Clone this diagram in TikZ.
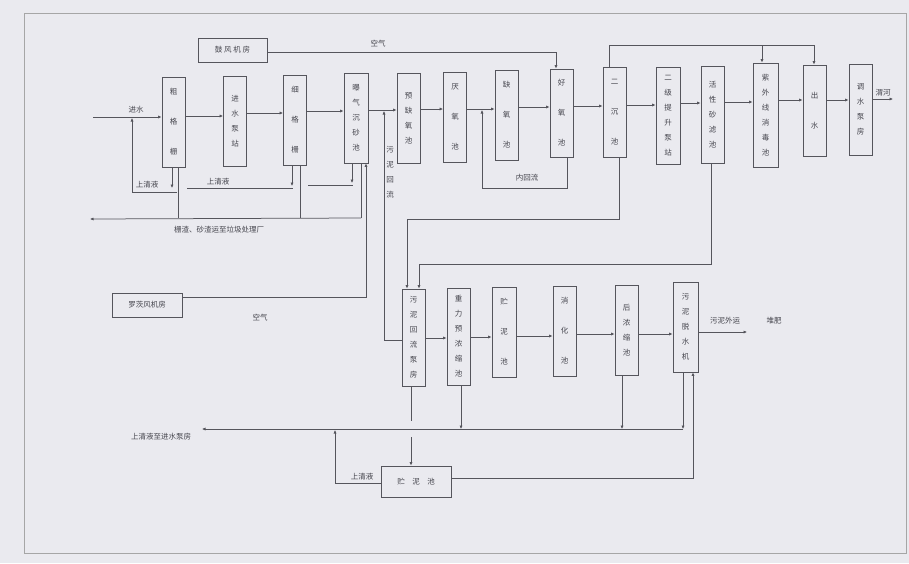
\documentclass[tikz,border=0pt]{standalone}
\usepackage{fontspec}
\newfontfamily\cjk{Noto Sans CJK SC}
\usetikzlibrary{arrows.meta}
\definecolor{paper}{RGB}{234,234,239}
\definecolor{ink}{RGB}{85,85,92}
\definecolor{txt}{RGB}{70,70,78}
\begin{document}
\begin{tikzpicture}[x=1pt,y=-1pt,
  unit/.style={draw=ink, fill=paper, line width=0.75pt, inner sep=0pt, align=center, text=txt, minimum width=23pt},
  tall/.style={unit, font=\cjk\fontsize{7.5}{30}\selectfont},
  short/.style={unit, font=\cjk\fontsize{7.5}{15}\selectfont},
  hbox/.style={unit, font=\cjk\fontsize{7.5}{9}\selectfont},
  flow/.style={draw=ink, line width=0.75pt},
  arr/.style={flow, -{Latex[length=3.5pt,width=3.2pt]}},
  lbl/.style={font=\cjk\fontsize{7.5}{9}\selectfont, text=txt, inner sep=1pt},
  vlbl/.style={font=\cjk\fontsize{7.5}{15}\selectfont, text=txt, inner sep=1pt, align=center}]
\fill[paper] (0,0) rectangle (909,563);
\useasboundingbox (0,0) rectangle (909,563);
\draw[gray!70, line width=0.8pt] (24,13) rectangle (906,553);

% ---- top row units
\node[hbox, minimum width=69pt, minimum height=24pt] (gf) at (232.5,50) {鼓\ 风\ 机\ 房};
\node[tall,  minimum height=90pt] (cgs)  at (173.5,122) {粗\\格\\栅};
\node[short, minimum height=90pt] (jsbz) at (235,121)   {进\\水\\泵\\站};
\node[tall,  minimum height=90pt] (xgs)  at (295,120)   {细\\格\\栅};
\node[short, minimum height=90pt, minimum width=24pt] (bq) at (356,118) {曝\\气\\沉\\砂\\池};
\node[short, minimum height=90pt] (yqy)  at (408.5,118) {预\\缺\\氧\\池};
\node[tall,  minimum height=90pt] (yy)   at (455,117)   {厌\\氧\\池};
\node[tall,  minimum height=90pt] (qy)   at (506.5,115) {缺\\氧\\池};
\node[tall,  minimum height=88pt] (hy)   at (561.5,113) {好\\氧\\池};
\node[tall,  minimum height=90pt] (ec)   at (614.5,112) {二\\沉\\池};
\node[short, minimum height=97pt, minimum width=24pt] (ej) at (668,115.5) {二\\级\\提\\升\\泵\\站};
\node[short, minimum height=97pt] (hx)   at (712.5,114.5) {活\\性\\砂\\滤\\池};
\node[short, minimum height=104pt, minimum width=25pt] (zw) at (765.5,115) {紫\\外\\线\\消\\毒\\池};
\node[tall,  minimum height=91pt] (cs)   at (814.5,110.5) {出\\水};
\node[short, minimum height=91pt] (ts)   at (860.5,109.5) {调\\水\\泵\\房};

% ---- sludge units
\node[hbox, minimum width=70pt, minimum height=24pt] (lc) at (147,305) {罗茨风机房};
\node[short, minimum height=97pt] (wh) at (413.5,337.5) {污\\泥\\回\\流\\泵\\房};
\node[short, minimum height=97pt] (zl) at (458.5,336.5) {重\\力\\预\\浓\\缩\\池};
\node[tall,  minimum height=90pt, minimum width=24pt] (zn) at (504,332) {贮\\泥\\池};
\node[tall,  minimum height=90pt] (xh) at (564.5,331) {消\\化\\池};
\node[short, minimum height=90pt] (hn) at (626.5,330) {后\\浓\\缩\\池};
\node[short, minimum height=90pt, minimum width=25pt] (tj) at (685.5,327) {污\\泥\\脱\\水\\机};
\node[hbox, minimum width=70pt, minimum height=31pt] (zn2) at (416,481.5) {贮\quad 泥\quad 池};

% ---- main water flow
\coordinate (in) at (93,117);
\draw[arr] (in) -- (cgs.west |- in);
\node[lbl] at (136,110) {进水};
\foreach \a/\b/\y in {cgs/jsbz/116, jsbz/xgs/113, xgs/bq/111, bq/yqy/110, yqy/yy/109, yy/qy/109, qy/hy/107, hy/ec/106, ec/ej/105, ej/hx/103, hx/zw/102, zw/cs/100, cs/ts/100}
  \draw[arr] (\a.east |- 0,\y) -- (\b.west |- 0,\y);
\coordinate (out) at (893,99);
\draw[arr] (ts.east |- out) -- (out);
\node[lbl] at (883,93) {渭河};

% ---- supernatant returns & screenings
\draw[arr] (177,192) -- (132,192) -- (132,118);
\node[lbl] at (147,185) {上清液};
\draw[arr] (172,0 |- cgs.south) -- (172,188);
\draw[flow] (178,0 |- cgs.south) -- (178,218);
\draw[flow] (187,188) -- (293,188);
\draw[arr] (292,0 |- xgs.south) -- (292,186);
\node[lbl] at (218,182) {上清液};
\draw[flow] (300,0 |- xgs.south) -- (300,218);
\draw[flow] (308,185) -- (353,185);
\draw[arr] (352,0 |- bq.south) -- (352,183);
\draw[flow] (361,0 |- bq.south) -- (361,218);
\coordinate (trash) at (90,219);
\draw[arr] (361,218) -- (trash);
\node[lbl] at (219,230) {栅渣、砂渣运至垃圾处理厂};

% ---- air supply
\draw[arr] (lc.east |- 0,297) -- (366,297) -- (366,0 |- bq.south);
\node[lbl] at (260,318) {空气};
\draw[arr] (gf.east |- 0,52) -- (556,52) -- (556,0 |- hy.north);
\node[lbl] at (378,44) {空气};

% ---- sludge return & internal recycle
\draw[arr] (wh.west |- 0,340) -- (384,340) -- (384,111);
\node[vlbl] at (390,172) {污\\泥\\回\\流};
\draw[arr] (567,0 |- hy.south) -- (567,188) -- (482,188) -- (482,110);
\node[lbl] at (527,178) {内回流};

% ---- bypass from secondary clarifier
\draw[flow] (609,0 |- ec.north) -- (609,45) -- (814,45);
\draw[arr] (814,45) -- (814,0 |- cs.north);
\draw[arr] (762,45) -- (762,0 |- zw.north);

% ---- sludge to return pump room
\draw[arr] (619,0 |- ec.south) -- (619,219) -- (407,219) -- (407,0 |- wh.north);
\draw[arr] (711,0 |- hx.south) -- (711,264) -- (419,264) -- (419,0 |- wh.north);

% ---- sludge line
\foreach \a/\b/\y in {wh/zl/338, zl/zn/337, zn/xh/336, xh/hn/334, hn/tj/334}
  \draw[arr] (\a.east |- 0,\y) -- (\b.west |- 0,\y);
\coordinate (away) at (747,332);
\draw[arr] (tj.east |- away) -- (away);
\node[lbl] at (725,321) {污泥外运};
\node[lbl] at (774,321) {堆肥};

% ---- bottom supernatant network
\draw[flow] (411,0 |- wh.south) -- (411,421);
\draw[arr] (411,437) -- (411,0 |- zn2.north);
\coordinate (back) at (202,429);
\draw[arr] (683,429) -- (back);
\node[lbl] at (161,437) {上清液至进水泵房};
\draw[arr] (461,0 |- zl.south) -- (461,429);
\draw[arr] (622,0 |- hn.south) -- (622,429);
\draw[arr] (683,0 |- tj.south) -- (683,429);
\draw[arr] (zn2.west |- 0,483) -- (335,483) -- (335,430);
\node[lbl] at (362,477) {上清液};
\draw[arr] (zn2.east |- 0,478) -- (693,478) -- (693,0 |- tj.south);
\end{tikzpicture}
\end{document}
